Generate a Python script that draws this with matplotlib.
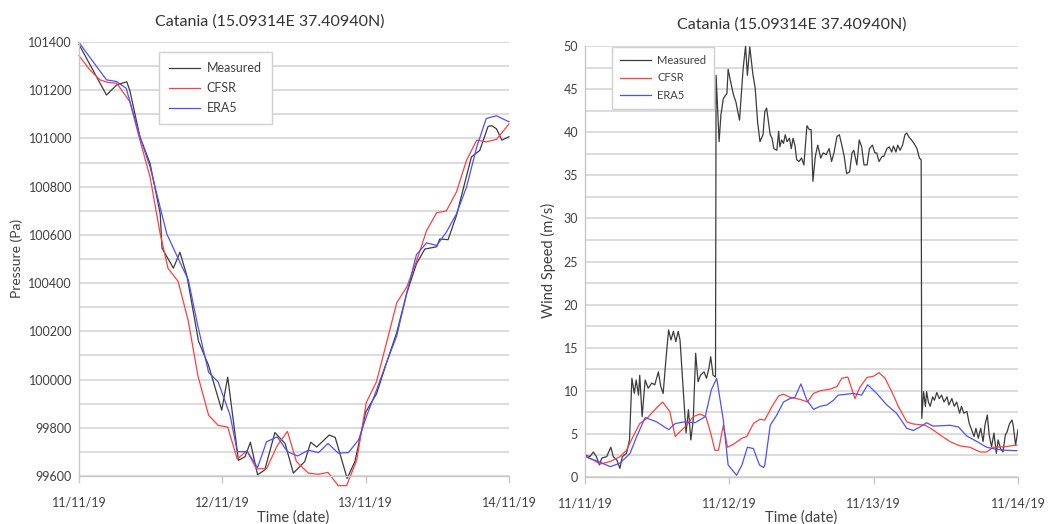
import matplotlib
matplotlib.use("Agg")
import matplotlib.pyplot as plt
import matplotlib.dates as mdates
from matplotlib.ticker import MultipleLocator
import pandas as pd

plt.rcParams['font.family'] = ['Lato', 'DejaVu Sans']

START = pd.Timestamp("2019-11-11")
TITLE = "Catania (15.09314E 37.40940N)"

# pressure (Pa), hours since 11/11/19 00:00
p_meas_h = [0.0, 4.6, 6.3, 8.0, 8.5, 10.2, 11.9, 13.6, 13.9, 15.8, 16.9, 18.1, 20.0, 21.7,
            23.9, 24.9, 26.7, 27.8, 28.7, 29.9, 31.1, 32.8, 34.5, 35.9, 37.8, 38.8, 39.8,
            41.9, 42.9, 44.9, 46.2, 48.0, 49.8, 51.5, 53.2, 54.9, 56.5, 57.9, 59.9, 60.4,
            61.8, 63.2, 65.7, 67.1, 68.5, 69.1, 69.9, 70.8, 72.0]
p_meas = [101390, 101180, 101222, 101235, 101200, 101007, 100896, 100687, 100545, 100462,
          100528, 100427, 100160, 100058, 99873, 100010, 99665, 99680, 99740, 99605, 99625,
          99780, 99735, 99612, 99660, 99740, 99720, 99770, 99760, 99590, 99660, 99865, 99940,
          100070, 100195, 100360, 100480, 100541, 100551, 100583, 100580, 100680, 100923,
          100950, 101050, 101053, 101040, 100993, 101007]

p_cfsr_h = [0.0, 1.8, 3.5, 4.9, 6.3, 6.8, 8.5, 10.2, 11.9, 13.6, 14.9, 16.6, 18.3, 19.9,
            21.7, 23.3, 24.9, 26.5, 28.1, 29.7, 31.4, 33.2, 34.9, 36.4, 38.4, 40.1, 41.7,
            43.4, 44.8, 46.5, 48.1, 49.8, 51.5, 53.2, 54.9, 56.5, 58.2, 59.9, 61.5, 63.2,
            64.9, 66.6, 68.2, 69.9, 72.0]
p_cfsr = [101343, 101285, 101243, 101232, 101229, 101212, 101153, 100993, 100840, 100604,
          100462, 100407, 100243, 100017, 99852, 99810, 99803, 99670, 99705, 99630, 99630,
          99726, 99785, 99660, 99612, 99607, 99615, 99560, 99560, 99665, 99905, 99990,
          100153, 100318, 100385, 100490, 100618, 100692, 100699, 100778, 100910, 100993,
          100986, 100996, 101060]

p_era5_h = [0.0, 2.9, 4.6, 6.3, 7.9, 10.2, 11.9, 14.7, 16.9, 18.3, 19.9, 21.7, 23.3, 25.3,
            26.5, 28.2, 29.9, 31.4, 33.2, 34.9, 36.6, 38.4, 40.1, 41.7, 43.4, 45.1, 46.8,
            48.2, 49.8, 51.5, 53.2, 54.9, 56.5, 58.2, 59.9, 61.5, 63.2, 64.9, 66.6, 68.2,
            69.9, 72.0]
p_era5 = [101398, 101300, 101243, 101236, 101208, 101007, 100882, 100604, 100486, 100414,
          100222, 100030, 99990, 99852, 99701, 99701, 99635, 99742, 99762, 99701, 99683,
          99707, 99697, 99735, 99695, 99697, 99749, 99852, 99955, 100071, 100181, 100360,
          100518, 100567, 100556, 100611, 100687, 100799, 100965, 101083, 101094, 101069]

# wind speed (m/s), hours since 11/11/19 00:00
w_meas_h = [0.0, 0.8, 1.4, 1.9, 2.4, 2.8, 3.6, 4.3, 4.7, 5.3, 5.8, 6.2, 6.9, 7.4, 7.8, 8.2,
            8.5, 8.9, 9.1, 9.5, 10.0, 10.5, 11.1, 11.6, 12.2, 12.6, 13.0, 13.5, 13.9, 14.3,
            14.7, 15.1, 15.5, 15.8, 16.4, 16.8, 17.2, 17.6, 18.0, 18.4, 18.8, 19.2, 19.8,
            20.2, 20.6, 20.9, 21.3, 21.7, 21.8, 22.3, 22.6, 23.0, 23.6, 23.8, 24.2, 24.7,
            25.1, 25.4, 25.7, 25.9, 26.3, 26.7, 27.0, 27.4, 27.9, 28.3, 28.7, 29.1, 29.6,
            29.9, 30.2, 30.8, 31.1, 31.4, 31.9, 32.2, 32.4, 32.7, 33.0, 33.3, 33.6, 34.0,
            34.3, 34.6, 34.9, 35.2, 35.6, 36.0, 36.4, 36.9, 37.3, 37.6, 37.9, 38.3, 38.7,
            39.2, 39.6, 40.1, 40.6, 41.0, 41.4, 41.9, 42.3, 42.7, 43.1, 43.5, 44.0, 44.4,
            44.7, 45.2, 45.6, 46.0, 46.4, 46.9, 47.3, 47.8, 48.2, 48.5, 48.9, 49.4, 49.7,
            50.2, 50.6, 51.0, 51.3, 51.7, 52.0, 52.4, 52.8, 53.2, 53.5, 53.9, 54.3, 54.7,
            55.2, 55.6, 55.9, 56.0, 56.3, 56.6, 56.8, 57.1, 57.4, 57.8, 58.1, 58.5, 58.9,
            59.3, 59.7, 60.2, 60.5, 61.0, 61.4, 61.8, 62.3, 62.6, 63.0, 63.5, 63.9, 64.3,
            64.7, 65.0, 65.4, 65.8, 66.2, 66.5, 66.9, 67.2, 67.6, 68.0, 68.4, 68.7, 69.1,
            69.5, 69.9, 70.2, 70.6, 71.0, 71.2, 71.6, 72.0]
w_meas = [2.55, 2.36, 2.9, 2.36, 1.4, 2.2, 2.36, 3.45, 2.36, 1.97, 1.0, 2.36, 2.75, 4.3,
          11.45, 9.7, 11.25, 9.5, 11.8, 7.0, 11.25, 10.3, 10.9, 10.7, 12.2, 10.5, 9.7, 14.0,
          17.05, 15.9, 16.9, 15.7, 16.9, 15.9, 9.3, 5.1, 7.8, 4.3, 6.6, 14.35, 11.05, 11.8,
          12.2, 11.45, 12.6, 13.95, 11.8, 11.6, 46.6, 38.9, 42.0, 43.9, 44.5, 47.3, 45.9,
          44.3, 43.5, 42.4, 41.4, 43.5, 47.4, 50.0, 46.6, 49.9, 46.8, 45.1, 41.2, 38.9,
          39.7, 42.4, 42.8, 39.7, 39.3, 38.1, 37.9, 40.1, 38.3, 39.1, 38.7, 39.7, 38.9, 39.3,
          38.1, 39.3, 38.5, 36.8, 36.6, 37.0, 36.2, 40.75, 40.3, 40.3, 34.3, 37.2, 38.5,
          37.0, 37.6, 37.4, 38.1, 36.6, 37.6, 39.5, 39.7, 38.5, 37.2, 35.2, 35.4, 37.6, 37.9,
          36.2, 39.1, 38.3, 36.2, 36.2, 38.1, 38.5, 37.6, 37.6, 36.6, 37.2, 37.2, 38.1, 38.3,
          37.7, 38.4, 37.7, 38.5, 37.9, 38.5, 39.7, 39.9, 39.4, 39.1, 38.7, 38.1, 37.0, 36.8,
          6.8, 9.9, 8.2, 9.9, 8.7, 8.2, 9.3, 8.9, 9.8, 9.1, 9.5, 8.7, 9.3, 8.35, 9.1, 8.2,
          8.7, 7.4, 8.2, 7.4, 7.6, 6.2, 5.45, 4.7, 5.65, 4.5, 5.65, 4.1, 6.0, 7.2, 4.9, 3.5,
          5.1, 2.75, 4.3, 3.3, 2.9, 4.9, 5.25, 6.2, 6.6, 6.0, 3.7, 5.5]

w_cfsr_h = [0.0, 1.4, 2.5, 4.2, 5.8, 6.9, 8.0, 9.1, 10.3, 11.6, 12.9, 14.1, 15.0, 15.8,
            16.9, 18.0, 19.1, 20.1, 20.9, 21.6, 22.2, 23.0, 23.7, 24.7, 26.1, 26.9, 28.0,
            29.1, 29.9, 31.1, 32.2, 33.0, 34.1, 35.8, 37.0, 38.0, 39.1, 40.8, 41.9, 42.7,
            43.7, 44.9, 45.7, 46.9, 48.0, 48.9, 49.9, 51.0, 52.1, 53.5, 54.6, 56.6, 57.9,
            59.0, 60.7, 62.4, 64.0, 65.7, 66.8, 67.9, 69.6, 71.8]
w_cfsr = [2.45, 1.97, 1.5, 1.8, 2.36, 3.1, 4.7, 6.2, 6.8, 7.8, 8.7, 7.6, 4.7, 5.25, 6.0,
          7.0, 7.3, 7.0, 5.1, 3.1, 3.1, 6.0, 3.45, 3.8, 4.5, 4.7, 6.2, 6.7, 6.6, 8.2, 9.4,
          9.6, 9.25, 9.0, 8.7, 9.7, 10.0, 10.2, 10.5, 11.45, 11.6, 9.1, 10.4, 11.55, 11.7,
          12.1, 11.45, 9.9, 8.2, 6.4, 6.15, 6.0, 5.45, 4.9, 4.1, 3.6, 3.45, 2.9, 2.9, 3.45,
          3.5, 3.7]

w_era5_h = [0.0, 2.2, 4.2, 5.8, 7.5, 8.6, 10.0, 11.9, 13.9, 15.0, 16.6, 18.3, 20.0, 21.0,
            21.9, 23.0, 23.8, 25.2, 26.1, 27.0, 28.0, 29.0, 29.7, 29.9, 30.8, 31.9, 33.0,
            34.1, 34.9, 35.9, 36.9, 38.0, 39.1, 40.2, 41.3, 42.1, 43.5, 44.6, 46.0, 47.0,
            48.5, 50.2, 51.8, 53.5, 54.6, 55.7, 56.8, 57.9, 60.7, 62.1, 63.5, 65.2, 66.8,
            68.5, 70.1, 71.8]
w_era5 = [2.36, 1.8, 1.2, 1.6, 2.75, 4.7, 6.9, 6.4, 5.5, 6.2, 6.4, 6.3, 7.0, 10.1, 11.45,
          6.6, 1.4, 0.2, 1.4, 3.45, 3.3, 1.4, 1.1, 1.4, 6.0, 7.2, 8.7, 9.1, 9.25, 10.8, 8.9,
          7.85, 8.2, 8.35, 8.9, 9.5, 9.6, 9.7, 9.5, 10.7, 9.7, 8.35, 7.4, 5.65, 5.4, 5.8,
          6.3, 5.9, 6.0, 5.8, 4.75, 4.1, 3.45, 3.2, 3.1, 3.05]

C_MEAS = '#3c3c3c'
C_CFSR = '#ff3f3f'
C_ERA5 = '#4f4fff'
GRID = '#d9d9d9'
TXT = '#404040'


def to_time(hours):
    return START + pd.to_timedelta(hours, unit='h')


def style_axes(ax, fmt):
    ax.set_xlim(START, START + pd.Timedelta(days=3))
    ax.xaxis.set_major_locator(mdates.DayLocator())
    ax.xaxis.set_major_formatter(mdates.DateFormatter(fmt))
    ax.grid(axis='y', which='both', color=GRID, lw=1.3)
    ax.set_axisbelow(True)
    for s in ('top', 'right'):
        ax.spines[s].set_visible(False)
    for s in ('left', 'bottom'):
        ax.spines[s].set_color('#c8c8c8')
        ax.spines[s].set_linewidth(1.0)
    ax.tick_params(axis='x', length=5, width=1, color='#c8c8c8', pad=10,
                   labelsize=9, labelcolor=TXT)
    ax.tick_params(axis='y', which='both', length=0, pad=5, labelsize=9,
                   labelcolor=TXT)


def add_legend(ax, anchor, size, hlen, pad, spacing):
    ax.legend(loc='upper left', bbox_to_anchor=anchor, bbox_transform=fig.transFigure,
              borderaxespad=0, fontsize=size, frameon=True, fancybox=False,
              edgecolor='#d0d0d0', framealpha=1, handlelength=hlen, handletextpad=0.5,
              borderpad=pad, labelspacing=spacing, labelcolor=TXT)


fig = plt.figure(figsize=(10.5, 5.24), dpi=100)

# pressure panel
ax1 = fig.add_axes([79 / 1050, 1 - 476 / 524, 430 / 1050, 434 / 524])
ax1.plot(to_time(p_meas_h), p_meas, color=C_MEAS, lw=0.9, label='Measured', clip_on=False)
ax1.plot(to_time(p_cfsr_h), p_cfsr, color=C_CFSR, lw=0.9, label='CFSR', clip_on=False)
ax1.plot(to_time(p_era5_h), p_era5, color=C_ERA5, lw=0.9, label='ERA5', clip_on=False)
ax1.set_ylim(99600, 101400)
ax1.yaxis.set_major_locator(MultipleLocator(200))
ax1.yaxis.set_minor_locator(MultipleLocator(100))
style_axes(ax1, '%d/%m/%y')
add_legend(ax1, (159 / 1050, 1 - 52 / 524), 9, 2.5, 0.8, 0.65)
fig.text(17 / 1050, 1 - 258 / 524, 'Pressure (Pa)', rotation=90, ha='center', va='center',
         fontsize=10, color=TXT)
fig.text(270 / 1050, 1 - 22 / 524, TITLE, ha='center', va='center', fontsize=11.5, color='#333333')
fig.text(293 / 1050, 1 - 518 / 524, 'Time (date)', ha='center', va='center', fontsize=10.5, color=TXT)

# wind speed panel
ax2 = fig.add_axes([585 / 1050, 1 - 477 / 524, 433 / 1050, 431 / 524])
ax2.plot(to_time(w_meas_h), w_meas, color=C_MEAS, lw=0.9, label='Measured')
ax2.plot(to_time(w_cfsr_h), w_cfsr, color=C_CFSR, lw=0.9, label='CFSR')
ax2.plot(to_time(w_era5_h), w_era5, color=C_ERA5, lw=0.9, label='ERA5')
ax2.set_ylim(0, 50)
ax2.yaxis.set_major_locator(MultipleLocator(5))
ax2.yaxis.set_minor_locator(MultipleLocator(2.5))
style_axes(ax2, '%m/%d/%y')
add_legend(ax2, (612 / 1050, 1 - 47 / 524), 8, 2.8, 0.75, 0.55)
fig.text(548 / 1050, 1 - 260 / 524, 'Wind Speed (m/s)', rotation=90, ha='center', va='center',
         fontsize=10.5, color=TXT)
fig.text(792 / 1050, 1 - 25 / 524, TITLE, ha='center', va='center', fontsize=11.5, color='#333333')
fig.text(801 / 1050, 1 - 518 / 524, 'Time (date)', ha='center', va='center', fontsize=10.5, color=TXT)

fig.savefig('out.png', dpi=100)
